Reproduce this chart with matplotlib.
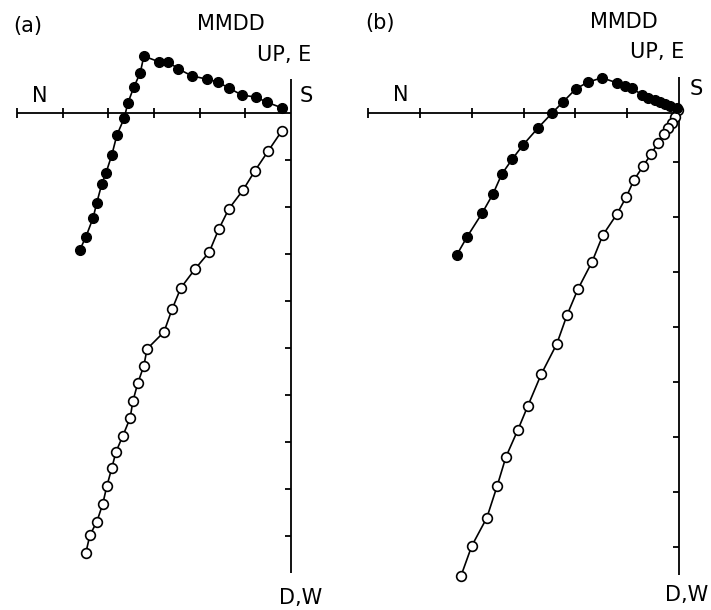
import matplotlib
matplotlib.use('Agg')
from matplotlib import pyplot as plt
from numpy import array

plt.rcParams['font.family'] = 'DejaVu Sans'

# (a) horizontal projection (filled) and vertical projection (open), in tick units
a_h_x = array([-4.62, -4.49, -4.33, -4.25, -4.14, -4.05, -3.92, -3.81, -3.65, -3.57, -3.44, -3.30,
               -3.22, -2.89, -2.69, -2.47, -2.17, -1.84, -1.60, -1.36, -1.07, -0.77, -0.53, -0.20])
a_h_y = array([-2.91, -2.64, -2.23, -1.91, -1.51, -1.28, -0.89, -0.47, -0.11, 0.21, 0.55, 0.85,
               1.21, 1.09, 1.09, 0.94, 0.79, 0.72, 0.66, 0.53, 0.38, 0.34, 0.23, 0.11])
a_v_x = array([-0.20, -0.50, -0.79, -1.05, -1.36, -1.58, -1.79, -2.10, -2.41, -2.60, -2.78, -3.15,
               -3.22, -3.35, -3.46, -3.52, -3.68, -3.83, -3.92, -4.03, -4.12, -4.25, -4.40, -4.49])
a_v_y = array([-0.38, -0.81, -1.23, -1.64, -2.04, -2.47, -2.96, -3.32, -3.72, -4.17, -4.66, -5.02,
               -5.38, -5.74, -6.13, -6.49, -6.87, -7.21, -7.55, -7.94, -8.32, -8.70, -8.98, -9.36])

# (b)
b_h_x = array([-4.29, -4.09, -3.80, -3.59, -3.42, -3.22, -3.01, -2.72, -2.45, -2.24, -1.99, -1.76,
               -1.49, -1.20, -1.04, -0.91, -0.71, -0.60, -0.46, -0.37, -0.27, -0.17, -0.04])
b_h_y = array([-2.58, -2.25, -1.82, -1.47, -1.11, -0.84, -0.58, -0.27, 0.00, 0.20, 0.44, 0.56,
               0.64, 0.55, 0.49, 0.45, 0.33, 0.27, 0.24, 0.20, 0.16, 0.13, 0.09])
b_v_x = array([-0.02, -0.08, -0.14, -0.21, -0.29, -0.41, -0.54, -0.69, -0.87, -1.02, -1.20, -1.47,
               -1.68, -1.95, -2.16, -2.36, -2.66, -2.92, -3.11, -3.34, -3.51, -3.71, -4.00, -4.21])
b_v_y = array([0.05, -0.07, -0.18, -0.27, -0.38, -0.55, -0.75, -0.96, -1.22, -1.53, -1.84, -2.22,
               -2.71, -3.20, -3.67, -4.20, -4.75, -5.33, -5.76, -6.25, -6.78, -7.36, -7.87, -8.42])

W, H = 711, 610
fig = plt.figure(figsize=(W / 100, H / 100), dpi=100)


def panel(left, width, x0, xu, yu, vtop, vbot, yticks, hx, hy, vx, vy):
    # axes in pixel geometry: origin at pixel x0 (from panel left) and y=113
    ax = fig.add_axes([left / W, 0, width / W, 1])
    ax.set_xlim(-(x0 - left) / xu, (left + width - x0) / xu)
    ax.set_ylim((113 - H) / yu, 113 / yu)
    ax.axis('off')
    k = dict(c='k', lw=1.3, solid_capstyle='butt')
    ax.plot([-6, 0], [0, 0], **k)
    ax.plot([0, 0], [vbot, vtop], **k)
    for t in range(-6, 0):
        ax.plot([t, t], [-5 / yu, 5 / yu], **k)
    for t in yticks:
        ax.plot([-6 / xu, 0], [t, t], **k)
    ax.plot(vx, vy, '-o', c='k', lw=1.2, ms=7, mfc='white', mec='k', mew=1.2, zorder=3)
    ax.plot(hx, hy, '-o', c='k', lw=1.2, ms=7, mfc='k', mec='k', zorder=4)
    return ax


panel(0, 345, 291, 45.7, 47, 0.72, -9.79, range(-9, 0),
      a_h_x, a_h_y, a_v_x, a_v_y)
panel(350, 361, 679, 51.8, 55, 0.65, -8.40, [-0.89 - i for i in range(8)],
      b_h_x, b_h_y, b_v_x, b_v_y)

labels = [
    ('(a)', 13, 26), ('MMDD', 197, 24), ('UP, E', 257, 55), ('N', 32, 96), ('S', 300, 96),
    ('D,W', 279, 598),
    ('(b)', 365, 23), ('MMDD', 590, 22), ('UP, E', 630, 52), ('N', 393, 95), ('S', 690, 89),
    ('D,W', 665, 595),
]
for s, px, py in labels:
    fig.text(px / W, 1 - py / H, s, fontsize=15, ha='left', va='center')

fig.savefig('out.png', dpi=100)
